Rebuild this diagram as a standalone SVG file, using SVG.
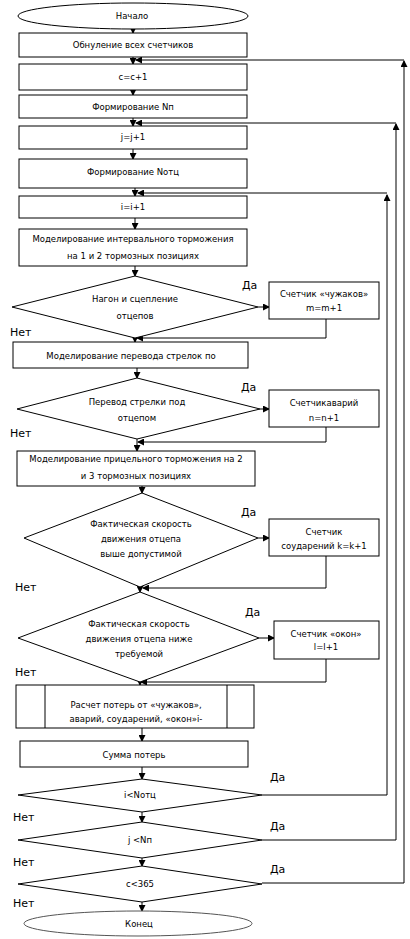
<svg xmlns="http://www.w3.org/2000/svg" width="410" height="939" viewBox="0 0 410 939">
<style>
.s{fill:#fff;stroke:#000;stroke-width:1}
.t{font-family:"DejaVu Sans",sans-serif;font-size:8.5px;fill:#000;text-anchor:middle;dominant-baseline:central}
.l{font-family:"DejaVu Sans",sans-serif;font-size:11px;fill:#000}
.c{fill:none;stroke:#000;stroke-width:1}
</style>
<defs>
<marker id="a" markerWidth="7" markerHeight="7" refX="6" refY="3.5" orient="auto" markerUnits="userSpaceOnUse">
<path d="M0,0 L7,3.5 L0,7 Z" fill="#000"/>
</marker>
</defs>
<rect width="410" height="939" fill="#fff"/>
<g id="connectors">
<path class="c" d="M133,29 V33" marker-end="url(#a)"/>
<path class="c" d="M133,57 V64" marker-end="url(#a)"/>
<path class="c" d="M262,883 H404 V61" marker-end="url(#a)"/>
<path class="c" d="M404,60 H136" marker-end="url(#a)"/>
<path class="c" d="M133,90 V95" marker-end="url(#a)"/>
<path class="c" d="M133,118 V126" marker-end="url(#a)"/>
<path class="c" d="M262,840 H396 V124" marker-end="url(#a)"/>
<path class="c" d="M396,123 H136" marker-end="url(#a)"/>
<path class="c" d="M133,149 V159" marker-end="url(#a)"/>
<path class="c" d="M135,188 V196" marker-end="url(#a)"/>
<path class="c" d="M262,795 H387 V195" marker-end="url(#a)"/>
<path class="c" d="M387,193 H138" marker-end="url(#a)"/>
<path class="c" d="M135,218 V229" marker-end="url(#a)"/>
<path class="c" d="M135,266 V276" marker-end="url(#a)"/>
<path class="c" d="M258,307 H269" marker-end="url(#a)"/>
<path class="c" d="M326,319 V338 H137" marker-end="url(#a)"/>
<path class="c" d="M135,338 V342" marker-end="url(#a)"/>
<path class="c" d="M137,368 V378" marker-end="url(#a)"/>
<path class="c" d="M260,409 H269" marker-end="url(#a)"/>
<path class="c" d="M326,427 V442 H138" marker-end="url(#a)"/>
<path class="c" d="M137,439 V451" marker-end="url(#a)"/>
<path class="c" d="M142,486 V493" marker-end="url(#a)"/>
<path class="c" d="M258,538 H269" marker-end="url(#a)"/>
<path class="c" d="M326,556 V588 H143" marker-end="url(#a)"/>
<path class="c" d="M140,586 V592" marker-end="url(#a)"/>
<path class="c" d="M259,638 H274" marker-end="url(#a)"/>
<path class="c" d="M326,659 V682 H141" marker-end="url(#a)"/>
<path class="c" d="M140,681 V685" marker-end="url(#a)"/>
<path class="c" d="M142,728 V741" marker-end="url(#a)"/>
<path class="c" d="M142,767 V779" marker-end="url(#a)"/>
<path class="c" d="M142,812 V822" marker-end="url(#a)"/>
<path class="c" d="M142,858 V866" marker-end="url(#a)"/>
<path class="c" d="M142,902 V911" marker-end="url(#a)"/>
</g>
<g id="start"><ellipse class="s" cx="133" cy="16" rx="115" ry="13"/><text class="t" x="132" y="16">Начало</text></g>
<g id="reset"><rect class="s" x="19" y="33" width="228" height="24"/><text class="t" x="133" y="45">Обнуление всех счетчиков</text></g>
<g id="cinc"><rect class="s" x="19" y="64" width="228" height="26"/><text class="t" x="133" y="77">c=c+1</text></g>
<g id="formNp"><rect class="s" x="19" y="95" width="228" height="23"/><text class="t" x="133" y="107">Формирование Nп</text></g>
<g id="jinc"><rect class="s" x="19" y="126" width="228" height="23"/><text class="t" x="133" y="137">j=j+1</text></g>
<g id="formNotc"><rect class="s" x="19" y="159" width="228" height="29"/><text class="t" x="133" y="172">Формирование Nотц</text></g>
<g id="iinc"><rect class="s" x="19" y="196" width="228" height="22"/><text class="t" x="133" y="207">i=i+1</text></g>
<g id="model1"><rect class="s" x="19" y="229" width="228" height="37"/><text class="t" x="133" y="239">Моделирование интервального торможения</text><text class="t" x="133" y="256">на 1 и 2 тормозных позициях</text></g>
<g id="d1"><polygon class="s" points="135,276 258,307 135,338 12,307"/><text class="t" x="135" y="299">Нагон и сцепление</text><text class="t" x="135" y="316">отцепов</text></g>
<g id="b1"><rect class="s" x="269" y="282" width="110" height="37"/><text class="t" x="324" y="294">Счетчик «чужаков»</text><text class="t" x="324" y="308">m=m+1</text></g>
<g id="model2"><rect class="s" x="13" y="342" width="235" height="26"/><text class="t" x="131" y="356">Моделирование перевода стрелок по</text></g>
<g id="d2"><polygon class="s" points="137,378 260,409 137,439 17,409"/><text class="t" x="137" y="402">Перевод стрелки под</text><text class="t" x="137" y="418">отцепом</text></g>
<g id="b2"><rect class="s" x="269" y="390" width="110" height="37"/><text class="t" x="324" y="403">Счетчикаварий</text><text class="t" x="324" y="418">n=n+1</text></g>
<g id="model3"><rect class="s" x="17" y="451" width="238" height="35"/><text class="t" x="136" y="459">Моделирование прицельного торможения на 2</text><text class="t" x="136" y="476">и 3 тормозных позициях</text></g>
<g id="d3"><polygon class="s" points="142,493 258,538 140,587 24,538"/><text class="t" x="141" y="524">Фактическая скорость</text><text class="t" x="141" y="539">движения отцепа</text><text class="t" x="141" y="554">выше допустимой</text></g>
<g id="b3"><rect class="s" x="269" y="519" width="110" height="37"/><text class="t" x="324" y="532">Счетчик</text><text class="t" x="324" y="546">соударений k=k+1</text></g>
<g id="d4"><polygon class="s" points="140,592 259,638 140,682 18,638"/><text class="t" x="139" y="624">Фактическая скорость</text><text class="t" x="139" y="639">движения отцепа ниже</text><text class="t" x="139" y="654">требуемой</text></g>
<g id="b4"><rect class="s" x="274" y="621" width="105" height="38"/><text class="t" x="326" y="634">Счетчик «окон»</text><text class="t" x="326" y="647">l=l+1</text></g>
<g id="calc"><rect class="s" x="16" y="685" width="238" height="43"/><line class="c" x1="45" y1="685" x2="45" y2="728"/><line class="c" x1="227" y1="685" x2="227" y2="728"/><text class="t" x="136" y="705">Расчет потерь от «чужаков»,</text><text class="t" x="136" y="719">аварий, соударений, «окон»i-</text></g>
<g id="sum"><rect class="s" x="20" y="741" width="228" height="26"/><text class="t" x="134" y="755">Сумма потерь</text></g>
<g id="di"><polygon class="s" points="142,779 262,795 142,812 18,795"/><text class="t" x="140" y="795">i&lt;Nотц</text></g>
<g id="dj"><polygon class="s" points="142,822 262,840 142,858 18,840"/><text class="t" x="140" y="840">j &lt;Nп</text></g>
<g id="dc"><polygon class="s" points="142,866 262,884 142,902 18,884"/><text class="t" x="140" y="884">c&lt;365</text></g>
<g id="end"><ellipse cx="138" cy="923.5" rx="114" ry="12.5" fill="#fff" stroke="#555" stroke-width="1"/><text class="t" x="139" y="924">Конец</text></g>
<g id="labels">
<text class="l" x="242" y="289">Да</text>
<text class="l" x="10" y="336">Нет</text>
<text class="l" x="241" y="391">Да</text>
<text class="l" x="10" y="437">Нет</text>
<text class="l" x="241" y="516">Да</text>
<text class="l" x="15" y="591">Нет</text>
<text class="l" x="245" y="616">Да</text>
<text class="l" x="15" y="676">Нет</text>
<text class="l" x="270" y="781">Да</text>
<text class="l" x="13" y="821">Нет</text>
<text class="l" x="270" y="830">Да</text>
<text class="l" x="13" y="866">Нет</text>
<text class="l" x="270" y="873">Да</text>
<text class="l" x="13" y="907">Нет</text>
</g>
</svg>
